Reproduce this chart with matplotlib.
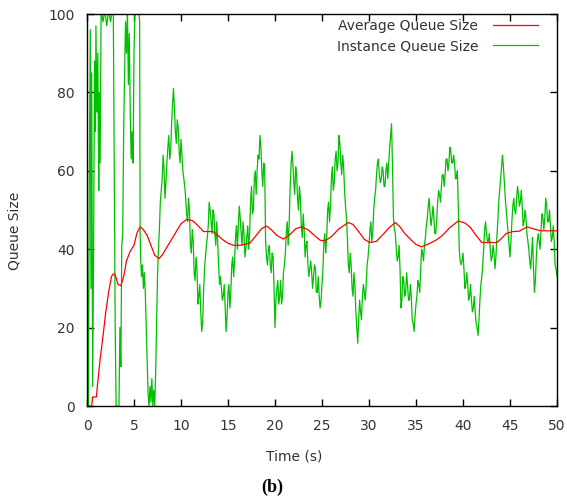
import numpy as np
import matplotlib
matplotlib.use("Agg")
import matplotlib.pyplot as plt

# ---------------- data ----------------
# red curve: average queue size
avg_t = [0, 0.5, 0.6, 1.0, 1.1, 1.4, 1.74, 2.0, 2.3, 2.6, 2.8, 3.0, 3.3, 3.6, 3.9,
         4.2, 4.6, 5.0, 5.3, 5.64, 6.0, 6.4, 6.8, 7.2, 7.66, 8.0, 8.5, 9.0, 9.5,
         10.0, 10.6, 11.2, 11.6, 12.0, 12.4, 13.4, 13.8, 14.4, 15.0, 15.6, 16.3,
         17.3, 18.0, 18.6, 19.1, 19.6, 20.2, 20.9, 21.5, 22.2, 22.8, 23.5, 24.2,
         24.8, 25.3, 26.0, 26.8, 27.8, 28.3, 28.9, 29.5, 30.1, 30.8, 31.5, 32.2,
         32.8, 33.3, 33.8, 34.5, 35.0, 35.6, 36.3, 37.2, 37.8, 38.6, 39.5, 40.2,
         40.8, 41.4, 42.0, 43.6, 44.0, 44.6, 45.3, 46.0, 46.8, 47.5, 48.2, 50.0]
avg_q = [0, 0, 2.3, 2.3, 5, 12, 18.6, 24, 29, 33, 33.7, 33.5, 31, 30.7, 33,
         37, 39.5, 41, 44, 45.7, 45, 43.5, 41, 38.5, 37.6, 38.5, 40.5, 42.5, 44.5,
         46.5, 47.6, 47.3, 46.5, 45.5, 44.5, 44.5, 43.8, 42.5, 41.5, 41, 41,
         41.5, 43.5, 45.3, 45.9, 45, 43.5, 42.6, 43.5, 45.2, 45.7, 45, 43.5,
         42.3, 42.1, 43.2, 45.2, 46.8, 46.3, 44.5, 42.5, 41.7, 42, 43.8, 45.6,
         46.8, 45.7, 44, 42.3, 41.2, 40.6, 41.3, 42.4, 43.5, 45.5, 47.2, 46.7,
         45.5, 43.5, 41.7, 41.7, 42.5, 44, 44.5, 44.6, 45.7, 45.2, 44.7, 44.7]

# green curve, start-up phase (irregular sampling)
inst_t0 = [0.0, 0.02, 0.08, 0.15, 0.25, 0.35, 0.42, 0.5, 0.6, 0.7, 0.8, 0.9, 0.95,
           1.05, 1.15, 1.25, 1.3, 1.4, 1.5, 1.7, 1.9, 2.1, 2.3, 2.5, 2.7, 2.8,
           2.9, 3.0, 3.1, 3.4, 3.5, 3.6, 3.7, 3.8, 3.9, 4.0, 4.1, 4.2, 4.3, 4.4,
           4.5, 4.6, 4.7, 4.8, 4.9, 5.0, 5.1, 5.3, 5.5, 5.6, 5.65, 5.7, 5.8, 5.9,
           6.0, 6.1, 6.2, 6.3, 6.4, 6.5, 6.6, 6.7, 6.8, 6.9, 7.0, 7.1, 7.2, 7.3,
           7.4, 7.5, 7.6, 7.7, 7.8, 7.9, 8.0]
inst_q0 = [0, 48, 20, 0, 60, 96, 30, 85, 5, 40, 88, 70, 97,
           75, 90, 55, 80, 62, 101, 98, 101, 97, 101, 98, 101, 100,
           60, 20, 0, 0, 20, 10, 41, 44, 70, 85, 98, 90, 101, 82,
           95, 75, 63, 70, 62, 90, 101, 101, 101, 98, 45, 38, 33, 36,
           30, 34, 29, 20, 10, 3, 0, 5, 1, 7, 0, 4, 0, 8,
           20, 33, 40, 45, 52, 55, 58]

# green curve, steady phase, values at 8.1, 8.3, ... 49.9 s
inst_q_odd = [64, 53, 62, 69, 65, 77, 76, 67, 71, 62,
              64, 58, 53, 47, 50, 39, 42, 32, 35, 28,
              24, 21, 35, 41, 46, 50, 44, 49, 41, 42,
              31, 30, 28, 25, 23, 31, 29, 38, 37, 46,
              46, 48, 41, 44, 40, 46, 44, 56, 50, 60,
              60, 63, 66, 56, 61, 38, 40, 36, 39, 30,
              27, 32, 28, 26, 34, 39, 47, 46, 61, 62,
              54, 59, 50, 53, 43, 45, 41, 36, 35, 34,
              33, 35, 29, 28, 27, 35, 44, 43, 52, 51,
              61, 57, 65, 62, 67, 59, 61, 51, 43, 34,
              36, 28, 31, 20, 22, 24, 28, 29, 31, 38,
              45, 42, 50, 55, 62, 59, 58, 60, 56, 62,
              62, 69, 61, 45, 40, 38, 35, 27, 32, 29,
              31, 27, 28, 21, 23, 28, 31, 35, 39, 41,
              46, 51, 49, 48, 48, 44, 52, 54, 56, 59,
              59, 63, 62, 65, 62, 62, 58, 51, 37, 37,
              35, 31, 31, 28, 27, 25, 24, 20, 22, 31,
              36, 45, 44, 42, 40, 38, 39, 38, 47, 55,
              61, 61, 53, 47, 41, 42, 51, 50, 53, 54,
              52, 51, 47, 48, 42, 37, 39, 35, 32, 42,
              42, 45, 48, 48, 51, 47, 46, 43, 42, 35]
# values at 8.2, 8.4, ... 50.0 s
inst_q_even = [60, 57, 66, 63, 72, 81, 70, 73, 65, 68,
               60, 56, 49, 53, 41, 45, 34, 38, 26, 31,
               19, 29, 38, 43, 52, 47, 50, 44, 47, 36,
               33, 27, 31, 19, 29, 25, 36, 33, 43, 40,
               51, 44, 47, 38, 43, 40, 52, 49, 58, 54,
               64, 69, 60, 62, 42, 36, 41, 34, 38, 20,
               30, 26, 32, 28, 36, 44, 41, 55, 65, 57,
               61, 53, 56, 46, 49, 38, 42, 33, 37, 30,
               36, 29, 33, 25, 31, 42, 39, 50, 47, 58,
               55, 63, 60, 69, 62, 64, 55, 48, 36, 39,
               30, 34, 24, 16, 27, 22, 31, 27, 36, 41,
               47, 44, 53, 59, 63, 57, 61, 56, 60, 58,
               66, 72, 48, 44, 37, 41, 25, 33, 28, 34,
               27, 31, 22, 19, 26, 32, 29, 40, 37, 43,
               48, 53, 46, 51, 44, 47, 55, 52, 59, 56,
               63, 60, 66, 62, 64, 58, 60, 40, 36, 39,
               30, 34, 27, 31, 24, 28, 21, 18, 27, 33,
               40, 47, 42, 44, 37, 41, 35, 43, 52, 58,
               64, 57, 50, 44, 38, 47, 53, 49, 56, 51,
               55, 46, 50, 44, 40, 35, 43, 29, 38, 44,
               40, 49, 45, 53, 47, 50, 42, 46, 36, 33]

inst_q1 = np.column_stack([inst_q_odd, inst_q_even]).ravel()
inst_t1 = np.round(8.1 + 0.1 * np.arange(len(inst_q1)), 2)

inst_t = np.concatenate([inst_t0, inst_t1])
inst_q = np.concatenate([inst_q0, inst_q1])

xticks = np.arange(0, 51, 5)
yticks = np.arange(0, 101, 20)

# ---------------- figure ----------------
W, H = 567, 497
txt_col = '#333333'
fig = plt.figure(figsize=(W / 100, H / 100), dpi=100)
ax = fig.add_axes([87 / W, 1 - 406 / H, (557 - 87) / W, (406 - 14) / H])

ax.plot(avg_t, avg_q, color='#ff0000', lw=0.9, label='Average Queue Size', zorder=3)
ax.plot(inst_t, inst_q, color='#00c000', lw=0.9, label='Instance Queue Size', zorder=2)

ax.set_xlim(0, 50)
ax.set_ylim(0, 100)
ax.set_xticks(xticks)
ax.set_yticks(yticks)
ax.tick_params(direction='in', length=5, width=1, top=True, right=True,
               labelsize=10, labelcolor=txt_col)
ax.tick_params(axis='x', pad=9.5)
ax.tick_params(axis='y', pad=9)
for s in ax.spines.values():
    s.set_linewidth(1)

leg = ax.legend(loc='upper right', bbox_to_anchor=(538 / W, 1 - 19 / H),
                bbox_transform=fig.transFigure, frameon=False, markerfirst=False,
                fontsize=10, handlelength=3.25, handletextpad=1.05,
                labelspacing=0.45, borderpad=0, borderaxespad=0)
for t in leg.get_texts():
    t.set_color(txt_col)

fig.text(294 / W, 1 - 457 / H, 'Time (s)', ha='center', va='center', fontsize=10, color=txt_col)
fig.text(15 / W, 1 - 231 / H, 'Queue Size', ha='center', va='center', rotation=90,
         fontsize=10, color=txt_col)
fig.text(272 / W, 1 - 487 / H, '(b)', ha='center', va='center', fontsize=13,
         fontweight='bold', family='Liberation Serif')

fig.savefig('out.png', dpi=100)
